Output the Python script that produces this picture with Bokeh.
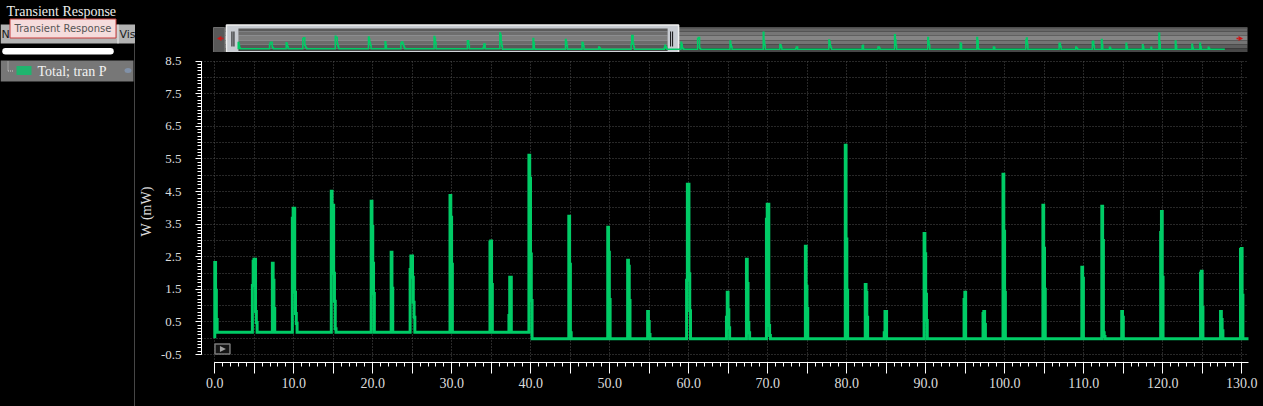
import numpy as np
from bokeh.plotting import figure
from bokeh.layouts import row, column
from bokeh.models import (Range1d, FixedTicker, SingleIntervalTicker, Label,
                          GlobalInlineStyleSheet)
from bokeh.core.properties import value
from bokeh.embed import file_html
from bokeh.resources import INLINE

# ---------------------------------------------------------------- data
# start time (ns) of every power spike and the successive sample levels (mW)
event_ns = [0.00, 4.76, 7.29, 9.82, 14.75, 19.80, 22.33, 24.73, 29.78, 34.84,
            37.24, 39.77, 44.82, 49.75, 52.27, 54.80, 59.73, 64.78, 67.31, 69.84,
            74.77, 79.82, 82.35, 84.75, 89.80, 94.86, 97.26, 99.79, 104.84, 109.77,
            112.30, 114.82, 119.75, 124.80, 127.33, 129.86,
            131.24, 132.46, 134.98, 137.47, 138.77, 139.98, 142.47, 144.99, 146.20, 147.48]
event_levels_mw = [
    [2.32, 1.47, 0.57],
    [1.62, 2.36, 2.42, 2.42, 0.82, 0.48],
    [2.30, 1.78, 0.91],
    [3.68, 3.99, 3.99, 1.41, 0.76, 0.45],
    [4.51, 4.08, 4.08, 1.99, 1.13, 0.29],
    [4.20, 3.43, 2.30, 1.37],
    [2.64, 1.53],
    [2.11, 2.52, 2.52, 1.87, 1.10, 0.64],
    [4.38, 3.71, 2.27],
    [2.95, 2.98, 1.65],
    [0.70, 1.87, 1.87],
    [5.61, 4.91, 2.58, 1.16],
    [3.74, 2.27, 0.17],
    [3.40, 2.64, 1.19],
    [2.39, 2.21, 1.16],
    [0.82, 0.51, 0.11],
    [1.78, 4.72, 4.72, 1.98, 0.84],
    [0.64, 1.41, 0.87, 0.32],
    [2.42, 1.68, 0.48, 0.17],
    [3.65, 4.11, 4.11, 0.39, 0.08],
    [2.82, 1.59, 0.91],
    [5.92, 3.04, 1.47],
    [1.65, 1.41, 0.64],
    [0.17, 0.82, 0.82],
    [3.21, 2.59, 1.35, 0.54],
    [1.19, 1.41],
    [0.76, 0.82, 0.42],
    [5.03, 3.28, 1.41],
    [4.08, 2.76, 1.50],
    [2.18, 1.84],
    [4.05, 3.00, 0.17, 0.05],
    [0.82, 0.64],
    [3.24, 3.89, 1.87],
    [1.99, 2.05, 0.94],
    [0.82, 0.57, 0.23],
    [2.72, 2.75, 1.32],
    [3.40, 1.60],
    [0.70, 0.40],
    [2.10, 0.90],
    [1.60, 0.90],
    [0.70],
    [5.50, 2.40],
    [2.90, 1.30],
    [1.70, 0.60],
    [2.10, 0.90],
    [0.70, 0.30],
]
baseline_mw = [0.18, -0.02]        # idle power before / after the switch
baseline_switch_ns = 40.1
start_mw = 0.0
sim_end_ns = 150.0
sample_ns = 0.1                    # duration of one sample level

x_tick_values = [0, 5, 10, 15, 20, 25, 30, 35, 40, 45, 50, 55, 60, 65, 70, 75, 80,
                 85, 90, 95, 100, 105, 110, 115, 120, 125, 130]
x_tick_labels = ["0.0", "", "10.0", "", "20.0", "", "30.0", "", "40.0", "", "50.0", "",
                 "60.0", "", "70.0", "", "80.0", "", "90.0", "", "100.0", "", "110.0", "",
                 "120.0", "", "130.0"]
y_tick_values = [-0.5, 0.5, 1.5, 2.5, 3.5, 4.5, 5.5, 6.5, 7.5, 8.5]
y_tick_labels = ["-0.5", "0.5", "1.5", "2.5", "3.5", "4.5", "5.5", "6.5", "7.5", "8.5"]

signal_name = "Total; tran P"

# ---------------------------------------------------------------- waveform
def base_at(t):
    return baseline_mw[0] if t < baseline_switch_ns else baseline_mw[1]

wx, wy = [0.0], [start_mw]
for t, levels in zip(event_ns, event_levels_mw):
    wx.append(t); wy.append(base_at(t))
    for k, lev in enumerate(levels):
        wx += [t + k * sample_ns, t + (k + 1) * sample_ns]
        wy += [lev, lev]
    te = t + len(levels) * sample_ns
    wx.append(te); wy.append(base_at(te))
wx.append(sim_end_ns); wy.append(base_at(sim_end_ns))

# ---------------------------------------------------------------- layout geometry (screen px)
RIGHT = 1263
BOTTOM = 406
SIDE_R = 135
OV_B = 52
FR_L, FR_R, FR_T, FR_B = 199, 1248, 60, 362
GREEN = "#00cc66"
BG = "#000000"
TXT = "#dcdcdc"
SERIF = "Liberation Serif"


def bare(fig):
    fig.grid.visible = False
    fig.outline_line_color = None
    fig.background_fill_color = BG
    fig.border_fill_color = BG
    return fig

# ---------------------------------------------------------------- sidebar
side = bare(figure(width=SIDE_R, height=BOTTOM,
                   x_range=Range1d(0, SIDE_R), y_range=Range1d(BOTTOM, 0),
                   x_axis_type=None, y_axis_type=None, min_border=0,
                   output_backend="svg", toolbar_location=None))
side.text(x=[6], y=[11], text=["Transient Response"], text_font=value(SERIF),
          text_font_size="14px", text_color="#ececec", text_baseline="middle")
side.quad(left=[0], right=[SIDE_R], top=[24], bottom=[43], fill_color="#b3b3b3", line_color=None)
side.segment(x0=[117.5], y0=[24], x1=[117.5], y1=[43], line_color="#eeeeee", line_width=1)
side.text(x=[1], y=[34], text=["N"], text_font=value("DejaVu Sans"), text_font_size="11px",
          text_color="#1a1a1a", text_baseline="middle")
side.text(x=[119], y=[34], text=["Vis"], text_font=value("DejaVu Sans"), text_font_size="11px",
          text_color="#1a1a1a", text_baseline="middle")
side.quad(left=[9.5], right=[115.5], top=[18.5], bottom=[37.5], fill_color="#f5dcdc",
          line_color="#c83c3c", line_width=1)
side.text(x=[62.5], y=[28], text=["Transient Response"], text_font=value("DejaVu Sans"),
          text_font_size="10px", text_color="#555555", text_align="center", text_baseline="middle")
side.line(x=[5, 110], y=[50.8, 50.8], line_width=6.5, line_cap="round", line_color="#ffffff")
side.quad(left=[0], right=[133], top=[60], bottom=[81], fill_color="#777777", line_color=None)
side.segment(x0=[7.5, 7.5], y0=[61, 70.5], x1=[7.5, 13], y1=[70.5, 70.5], line_color="#cfcfcf",
             line_width=1, line_dash="1 1")
side.quad(left=[16], right=[31], top=[65.5], bottom=[74.5], fill_color="#20b46e", line_color=None)
side.text(x=[37], y=[70.5], text=[signal_name], text_font=value(SERIF), text_font_size="14px",
          text_color="#f2f2f2", text_baseline="middle")
side.ellipse(x=[127.5], y=[70], width=7, height=5, fill_color="#8191a8", line_color=None)
side.segment(x0=[134.5], y0=[43], x1=[134.5], y1=[BOTTOM], line_color="#8c8c8c", line_width=1)

# ---------------------------------------------------------------- overview strip
ov_t0_px, ov_px_per_ns = 235.8, 6.59
ov_zero_px, ov_px_per_mw = 48.8, 2.9
ov = bare(figure(width=RIGHT - SIDE_R, height=OV_B,
                 x_range=Range1d((FR_L - ov_t0_px) / ov_px_per_ns, (FR_R - ov_t0_px) / ov_px_per_ns),
                 y_range=Range1d((ov_zero_px - OV_B) / ov_px_per_mw, ov_zero_px / ov_px_per_mw),
                 x_axis_type=None, y_axis_type=None,
                 min_border_left=FR_L - SIDE_R, min_border_right=RIGHT - FR_R,
                 min_border_top=0, min_border_bottom=0,
                 output_backend="svg", toolbar_location=None))
ov.extra_x_ranges = {"px": Range1d(FR_L, FR_R)}
ov.extra_y_ranges = {"px": Range1d(OV_B, 0)}
PX = dict(x_range_name="px", y_range_name="px")

bar_bands = [(27, 28, "#9a9a9a"), (28, 31, "#676767"), (31, 35, "#767676"), (35, 40, "#858585"),
             (40, 44, "#747474"), (44, 48, "#5d5d5d"), (48, 52, "#474747")]
ov.quad(left=[222] * len(bar_bands), right=[1247] * len(bar_bands),
        top=[b[0] for b in bar_bands], bottom=[b[1] for b in bar_bands],
        fill_color=[b[2] for b in bar_bands], line_color=None, **PX)
ov.quad(left=[211], right=[222], top=[27], bottom=[52], fill_color="#585858",
        line_color="#6e6e6e", **PX)
ov.patch(x=[214.5, 219, 219], y=[38, 35.5, 40.5], fill_color="#d01414", line_color=None, **PX)
ov.quad(left=[219], right=[221], top=[37.2], bottom=[38.8], fill_color="#d01414", line_color=None, **PX)
ov.patch(x=[1242.5, 1238, 1238], y=[38, 35.5, 40.5], fill_color="#d01414", line_color=None, **PX)
ov.quad(left=[1236], right=[1238], top=[37.2], bottom=[38.8], fill_color="#d01414", line_color=None, **PX)
# selection handle
ov.quad(left=[224], right=[677], top=[24.5], bottom=[52], fill_color="#c8ccd2",
        line_color="#f0f0f0", line_width=1.5, **PX)
inner_bands = [(28, 31, "#5a5a5a"), (31, 35, "#6e6e6e"), (35, 40, "#7e7e7e"),
               (40, 44, "#6c6c6c"), (44, 48, "#585858"), (48, 50.5, "#464646")]
ov.quad(left=[236] * len(inner_bands), right=[666] * len(inner_bands),
        top=[b[0] for b in inner_bands], bottom=[b[1] for b in inner_bands],
        fill_color=[b[2] for b in inner_bands], line_color=None, **PX)
ov.segment(x0=[229.5, 231.5, 669, 671], y0=[31, 31, 31, 31], x1=[229.5, 231.5, 669, 671],
           y1=[46, 46, 46, 46], line_color="#111111", line_width=1, **PX)
ov.line(wx, wy, line_width=1.5, line_color=GREEN, line_join="miter")

# ---------------------------------------------------------------- main plot
px_per_ns, x0_px = 7.914, 212.3
px_per_mw, y0_px = 32.6, 337.7
main = bare(figure(width=RIGHT - SIDE_R, height=BOTTOM - OV_B,
                   x_range=Range1d((FR_L - x0_px) / px_per_ns, (FR_R - x0_px) / px_per_ns),
                   y_range=Range1d((y0_px - FR_B) / px_per_mw, (y0_px - FR_T) / px_per_mw),
                   min_border_left=FR_L - SIDE_R, min_border_right=RIGHT - FR_R,
                   min_border_top=FR_T - OV_B, min_border_bottom=BOTTOM - FR_B,
                   output_backend="svg", toolbar_location=None))
main.grid.visible = True
main.extra_x_ranges = {"px": Range1d(FR_L, FR_R)}
main.extra_y_ranges = {"px": Range1d(FR_B, FR_T)}

xa = main.xaxis[0]
xa.ticker = FixedTicker(ticks=x_tick_values, minor_ticks=list(range(0, 131)))
xa.major_label_overrides = {v: l for v, l in zip(x_tick_values, x_tick_labels)}
xa.bounds = (0, main.x_range.end)
xa.major_tick_out = 11
xa.major_tick_in = 0
xa.minor_tick_out = 4
xa.minor_tick_in = 0
xa.major_label_standoff = 4
xa.major_label_text_font = SERIF
xa.major_label_text_font_size = "14px"

ya = main.yaxis[0]
ya.ticker = FixedTicker(ticks=y_tick_values,
                        minor_ticks=[round(-0.5 + 0.1 * i, 1) for i in range(91)])
ya.major_label_overrides = {v: l for v, l in zip(y_tick_values, y_tick_labels)}
ya.bounds = (-0.5, 8.5)
ya.major_tick_out = 6
ya.major_tick_in = 0
ya.minor_tick_out = 4
ya.minor_tick_in = 0
ya.major_label_standoff = 14
ya.major_label_text_font = SERIF
ya.major_label_text_font_size = "13px"
ya.axis_label = "W (mW)"
ya.axis_label_standoff = 4
ya.axis_label_text_font = SERIF
ya.axis_label_text_font_size = "14px"
ya.axis_label_text_font_style = "normal"
ya.axis_label_text_color = TXT

for ax in (xa, ya):
    ax.axis_line_color = "#ffffff"
    ax.major_tick_line_color = "#ffffff"
    ax.minor_tick_line_color = "#ffffff"
    ax.major_label_text_color = TXT

main.xgrid.ticker = SingleIntervalTicker(interval=5, num_minor_ticks=0)
main.ygrid.ticker = SingleIntervalTicker(interval=0.5, num_minor_ticks=0)
for g in (main.xgrid[0], main.ygrid[0]):
    g.grid_line_color = "#505050"
    g.grid_line_dash = "1 2"
    g.grid_line_width = 1

main.line(wx, wy, line_width=3, line_color=GREEN, line_join="miter")

# play button
main.quad(left=[212.5], right=[227.5], top=[343.5], bottom=[353.5], fill_color="#141414",
          line_color="#7a7a7a", line_width=1.5, **PX)
main.patch(x=[217.5, 217.5, 223.5], y=[345.5, 351.5, 348.5], fill_color="#a0a0a0",
           line_color=None, **PX)

main.add_layout(Label(x=703, y=389, text="time (ns)", text_baseline="top",
                      text_font=SERIF, text_font_size="13px", text_color=TXT, **PX))

layout = row(side, column(ov, main))
layout.stylesheets = [GlobalInlineStyleSheet(css="html, body { background: #000000; }")]

open("out.html", "w").write(file_html(layout, INLINE))
